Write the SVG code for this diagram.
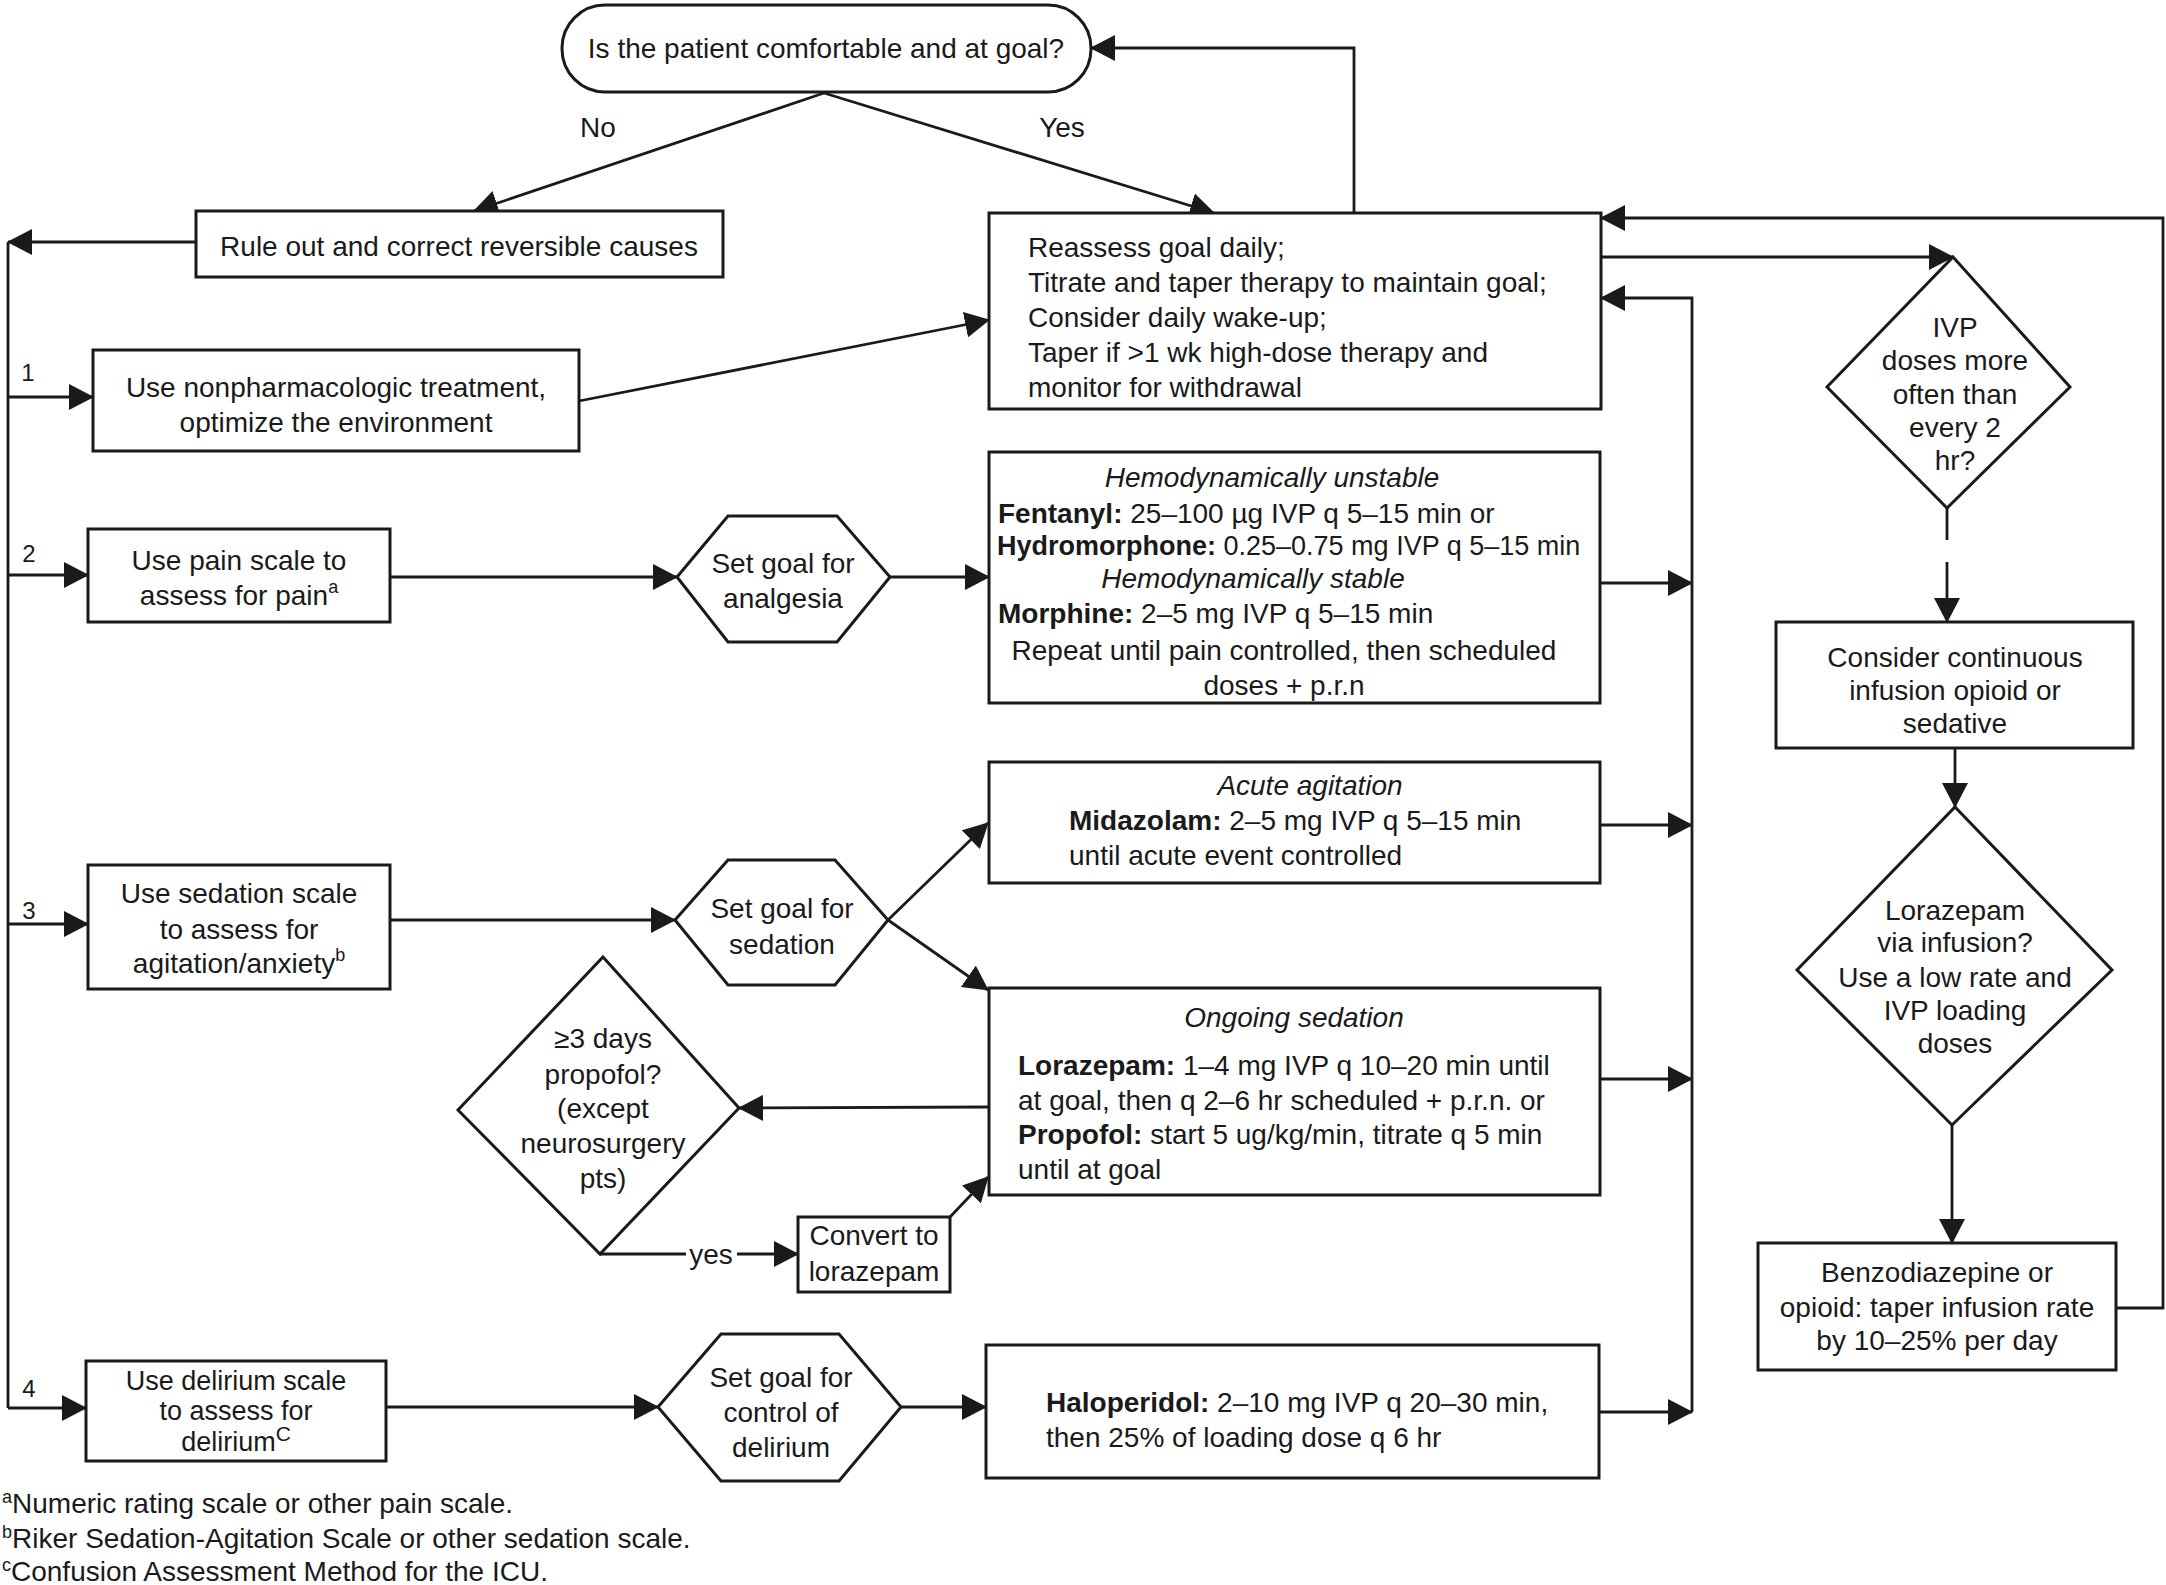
<svg xmlns="http://www.w3.org/2000/svg" width="2166" height="1585" viewBox="0 0 2166 1585">
<style>
text{font-family:"Liberation Sans",Arial,Helvetica,sans-serif;font-size:28px;fill:#1a1a1a}
.c{text-anchor:middle}
.b{font-weight:bold}
.i{font-style:italic}
.num{font-size:24px}
.sm{font-size:27px}
.box{fill:#fff;stroke:#1a1a1a;stroke-width:3}
.ln{fill:none;stroke:#1a1a1a;stroke-width:2.8}
.arr{fill:none;stroke:#1a1a1a;stroke-width:2.8;marker-end:url(#ah)}
</style>
<defs>
<marker id="ah" viewBox="0 0 25 26" markerWidth="25" markerHeight="26" markerUnits="userSpaceOnUse" refX="24" refY="13" orient="auto">
<path d="M0,0 L25,13 L0,26 Z" fill="#1a1a1a"/>
</marker>
</defs>
<rect width="2166" height="1585" fill="#fff"/>

<g id="connectors">
<path class="arr" d="M824,93 L474,211"/>
<path class="arr" d="M824,93 L1214,213"/>
<path class="arr" d="M196,242 L8,242"/>
<path class="ln" d="M8,242 L8,1408"/>
<path class="arr" d="M8,397 L93,397"/>
<path class="arr" d="M579,401 L989,320"/>
<path class="arr" d="M1354,213 L1354,48 L1091,48"/>
<path class="arr" d="M2116,1308 L2163,1308 L2163,218 L1601,218"/>
<path class="arr" d="M1601,257 L1953,257"/>
<path class="arr" d="M1692,1412 L1692,298 L1601,298"/>
<path class="ln" d="M1947,508 L1947,540"/>
<path class="arr" d="M1947,562 L1947,622"/>
<path class="arr" d="M1955,748 L1955,807"/>
<path class="arr" d="M1952,1125 L1952,1243"/>
<path class="arr" d="M8,575 L88,575"/>
<path class="arr" d="M390,577 L677,577"/>
<path class="arr" d="M890,577 L989,577"/>
<path class="arr" d="M1600,583 L1692,583"/>
<path class="arr" d="M8,924 L88,924"/>
<path class="arr" d="M390,920 L675,920"/>
<path class="arr" d="M888,920 L988,823"/>
<path class="arr" d="M888,920 L988,990"/>
<path class="arr" d="M1600,825 L1692,825"/>
<path class="arr" d="M1600,1079 L1692,1079"/>
<path class="arr" d="M989,1107 L739,1108"/>
<path class="ln" d="M600,1254 L686,1254"/>
<path class="arr" d="M737,1254 L798,1254"/>
<path class="arr" d="M950,1217 L988,1177"/>
<path class="arr" d="M8,1408 L86,1408"/>
<path class="arr" d="M386,1407 L658,1407"/>
<path class="arr" d="M901,1407 L986,1407"/>
<path class="arr" d="M1599,1412 L1692,1412"/>
<text x="598" y="137" class="c">No</text>
<text x="1062" y="137" class="c">Yes</text>
<text x="711" y="1264" class="c">yes</text>
<text x="28" y="381" class="c num">1</text>
<text x="29" y="562" class="c num">2</text>
<text x="29" y="919" class="c num">3</text>
<text x="29" y="1397" class="c num">4</text>
</g>

<g id="start">
<rect class="box" x="562" y="5" width="529" height="87" rx="43" ry="43"/>
<text x="826" y="58" class="c">Is the patient comfortable and at goal?</text>
</g>

<g id="ruleout">
<rect class="box" x="196" y="211" width="527" height="66"/>
<text x="459" y="256" class="c">Rule out and correct reversible causes</text>
</g>

<g id="nonpharm">
<rect class="box" x="93" y="350" width="486" height="101"/>
<text x="336" y="397" class="c">Use nonpharmacologic treatment,</text>
<text x="336" y="432" class="c">optimize the environment</text>
</g>

<g id="reassess">
<rect class="box" x="989" y="213" width="612" height="196"/>
<text x="1028" y="257">Reassess goal daily;</text>
<text x="1028" y="292">Titrate and taper therapy to maintain goal;</text>
<text x="1028" y="327">Consider daily wake-up;</text>
<text x="1028" y="362">Taper if &gt;1 wk high-dose therapy and</text>
<text x="1028" y="397">monitor for withdrawal</text>
</g>

<g id="ivp">
<polygon class="box" points="1953,257 2070,387 1947,508 1827,387"/>
<text x="1955" y="337" class="c">IVP</text>
<text x="1955" y="370" class="c">doses more</text>
<text x="1955" y="404" class="c">often than</text>
<text x="1955" y="437" class="c">every 2</text>
<text x="1955" y="470" class="c">hr?</text>
</g>

<g id="continuous">
<rect class="box" x="1776" y="622" width="357" height="126"/>
<text x="1955" y="667" class="c">Consider continuous</text>
<text x="1955" y="700" class="c">infusion opioid or</text>
<text x="1955" y="733" class="c">sedative</text>
</g>

<g id="lorazepam-inf">
<polygon class="box" points="1955,807 2112,970 1952,1125 1797,970"/>
<text x="1955" y="920" class="c">Lorazepam</text>
<text x="1955" y="952" class="c">via infusion?</text>
<text x="1955" y="987" class="c">Use a low rate and</text>
<text x="1955" y="1020" class="c">IVP loading</text>
<text x="1955" y="1053" class="c">doses</text>
</g>

<g id="taper">
<rect class="box" x="1758" y="1243" width="358" height="127"/>
<text x="1937" y="1282" class="c">Benzodiazepine or</text>
<text x="1937" y="1317" class="c">opioid: taper infusion rate</text>
<text x="1937" y="1350" class="c">by 10–25% per day</text>
</g>

<g id="painscale">
<rect class="box" x="88" y="529" width="302" height="93"/>
<text x="239" y="570" class="c">Use pain scale to</text>
<text x="239" y="605" class="c">assess for pain<tspan font-size="18" dy="-12">a</tspan></text>
</g>

<g id="goal-analgesia">
<polygon class="box" points="677,577 728,516 837,516 890,577 837,642 728,642"/>
<text x="783" y="573" class="c">Set goal for</text>
<text x="783" y="608" class="c">analgesia</text>
</g>

<g id="analgesics">
<rect class="box" x="989" y="452" width="611" height="251"/>
<text x="1272" y="487" class="c i">Hemodynamically unstable</text>
<text x="998" y="523"><tspan class="b">Fentanyl:</tspan> 25–100 µg IVP q 5–15 min or</text>
<text x="997" y="555" class="sm"><tspan class="b">Hydromorphone:</tspan> 0.25–0.75 mg IVP q 5–15 min</text>
<text x="1253" y="588" class="c i">Hemodynamically stable</text>
<text x="998" y="623"><tspan class="b">Morphine:</tspan> 2–5 mg IVP q 5–15 min</text>
<text x="1284" y="660" class="c">Repeat until pain controlled, then scheduled</text>
<text x="1284" y="695" class="c">doses + p.r.n</text>
</g>

<g id="sedscale">
<rect class="box" x="88" y="865" width="302" height="124"/>
<text x="239" y="903" class="c">Use sedation scale</text>
<text x="239" y="939" class="c">to assess for</text>
<text x="239" y="973" class="c">agitation/anxiety<tspan font-size="18" dy="-12">b</tspan></text>
</g>

<g id="goal-sedation">
<polygon class="box" points="675,920 728,860 835,860 888,920 835,985 728,985"/>
<text x="782" y="918" class="c">Set goal for</text>
<text x="782" y="954" class="c">sedation</text>
</g>

<g id="acute">
<rect class="box" x="989" y="762" width="611" height="121"/>
<text x="1310" y="795" class="c i">Acute agitation</text>
<text x="1069" y="830"><tspan class="b">Midazolam:</tspan> 2–5 mg IVP q 5–15 min</text>
<text x="1069" y="865">until acute event controlled</text>
</g>

<g id="ongoing">
<rect class="box" x="989" y="988" width="611" height="207"/>
<text x="1294" y="1027" class="c i">Ongoing sedation</text>
<text x="1018" y="1075"><tspan class="b">Lorazepam:</tspan> 1–4 mg IVP q 10–20 min until</text>
<text x="1018" y="1110">at goal, then q 2–6 hr scheduled + p.r.n. or</text>
<text x="1018" y="1144"><tspan class="b">Propofol:</tspan> start 5 ug/kg/min, titrate q 5 min</text>
<text x="1018" y="1179">until at goal</text>
</g>

<g id="propofol">
<polygon class="box" points="603,957 739,1108 600,1254 458,1110"/>
<text x="603" y="1048" class="c">≥3 days</text>
<text x="603" y="1084" class="c">propofol?</text>
<text x="603" y="1118" class="c">(except</text>
<text x="603" y="1153" class="c">neurosurgery</text>
<text x="603" y="1188" class="c">pts)</text>
</g>

<g id="convert">
<rect class="box" x="798" y="1217" width="152" height="75"/>
<text x="874" y="1245" class="c">Convert to</text>
<text x="874" y="1281" class="c">lorazepam</text>
</g>

<g id="delscale">
<rect class="box" x="86" y="1361" width="300" height="100"/>
<text x="236" y="1390" class="c sm">Use delirium scale</text>
<text x="236" y="1420" class="c sm">to assess for</text>
<text x="236" y="1451" class="c sm">delirium<tspan font-size="21" dy="-10">C</tspan></text>
</g>

<g id="goal-delirium">
<polygon class="box" points="658,1407 721,1334 839,1334 901,1407 839,1481 721,1481"/>
<text x="781" y="1387" class="c">Set goal for</text>
<text x="781" y="1422" class="c">control of</text>
<text x="781" y="1457" class="c">delirium</text>
</g>

<g id="haloperidol">
<rect class="box" x="986" y="1345" width="613" height="133"/>
<text x="1046" y="1412"><tspan class="b">Haloperidol:</tspan> 2–10 mg IVP q 20–30 min,</text>
<text x="1046" y="1447">then 25% of loading dose q 6 hr</text>
</g>

<g id="footnotes">
<text x="2" y="1513"><tspan font-size="18" dy="-10">a</tspan><tspan dy="10">Numeric rating scale or other pain scale.</tspan></text>
<text x="2" y="1548"><tspan font-size="18" dy="-10">b</tspan><tspan dy="10">Riker Sedation-Agitation Scale or other sedation scale.</tspan></text>
<text x="2" y="1581"><tspan font-size="18" dy="-10">c</tspan><tspan dy="10">Confusion Assessment Method for the ICU.</tspan></text>
</g>
</svg>
